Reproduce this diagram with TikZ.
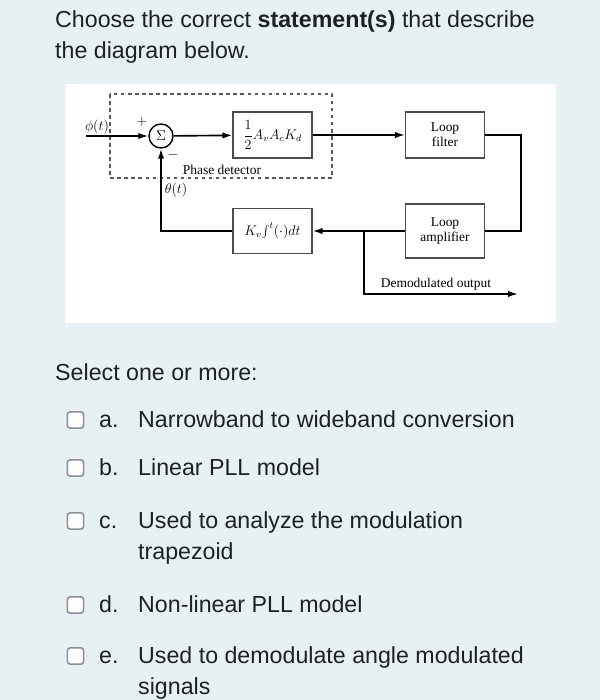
\documentclass[tikz,border=0pt]{standalone}
\usepackage{fontspec}
\setmainfont{Liberation Sans}
\newfontfamily\diagfont{Liberation Serif}
\usetikzlibrary{arrows.meta,positioning,calc}
\definecolor{pagebg}{HTML}{E7F1F4}
\definecolor{inktext}{HTML}{1D2125}
\definecolor{boxgray}{HTML}{8A9097}
\tikzset{
  blockbox/.style={draw=black!70, line width=0.9pt, fill=white,
    minimum width=23.7mm, minimum height=13.8mm, align=center, inner sep=2pt,
    font=\diagfont\fontsize{11.5}{13}\selectfont},
  sumnode/.style={draw=black, circle, line width=1.2pt, minimum size=7.2mm, inner sep=0pt,
    font=\fontsize{12}{13}\selectfont},
  sig/.style={-{Latex[length=3mm,width=1.9mm]}, line width=1.4pt},
  wire/.style={line width=1.4pt},
  difflabel/.style={font=\diagfont\fontsize{11.5}{13}\selectfont, inner sep=1pt},
  qtext/.style={anchor=base west, inner sep=0pt, text=inktext,
    font=\fontsize{19.8}{26.4}\selectfont, align=left},
  tickbox/.style={draw=boxgray, line width=1.3pt, rounded corners=2.5pt, fill=white,
    minimum size=4.9mm, inner sep=0pt},
}
%% box row at y, text baseline of its last line at #4
\newcommand{\choice}[4]{%
  \node[tickbox] (box#1) at (75.5,#2) {};
  \node[qtext] (let#1) at (99,#2+7) {#1.};
  \node[qtext] (opt#1) at (138,#4) {#3};}

\begin{document}
\begin{tikzpicture}[x=0.03cm, y=-0.03cm]

  %% ---- page ----
  \fill[pagebg] (0,0) rectangle (600,700);
  \useasboundingbox (0,0) rectangle (600,700);

  \node[qtext] (ask1) at (55,27) {Choose the correct \textbf{statement(s)} that describe};
  \node[qtext] (ask2) at (55,58) {the diagram below.};

  %% ---- diagram panel ----
  \fill[white] (65,84) rectangle (556,323);
  \draw[dashed, black!65, line width=0.9pt] (110,94) rectangle (332,178);

  \node[sumnode] (sum) at (161,136) {$\Sigma$};
  \node[blockbox] (gain) at (272.5,135) {$\displaystyle\frac{1}{2}A_vA_cK_d$};
  \node[blockbox] (filter) at (445,135) {Loop\\filter};
  \node[blockbox, minimum height=16.2mm] (amp) at (445,231) {Loop\\amplifier};
  \node[blockbox, minimum height=13.5mm] (vco) at (272.5,231) {$K_v\!\int^t(\cdot)dt$};

  \coordinate (phiin) at (86,136);
  \coordinate (split) at (364,231);
  \coordinate (demod) at (518,294);

  \node[difflabel] (phi) at (97,127) {$\phi(t)$};
  \node[difflabel] (plus) at (142,122) {$+$};
  \node[difflabel] (minus) at (173,155) {$-$};
  \node[difflabel] (pd) at (222,170) {Phase detector};
  \node[difflabel] (theta) at (176,190) {$\theta(t)$};
  \node[difflabel] (demodlbl) at (436,284) {Demodulated output};

  \draw[sig] (phiin) -- (sum);
  \draw[sig] (sum) -- (gain);
  \draw[sig] (gain) -- (filter);
  \draw[wire] (filter.east) -- ++(36,0) |- (amp.east);
  \draw[sig] (amp.west) -- (vco.east);
  \draw[sig] (split) |- (demod);
  \draw[sig] (vco.west) -| (sum.south);

  %% ---- choices ----
  \node[qtext] (pick) at (55,380) {Select one or more:};
  \choice{a}{420}{Narrowband to wideband conversion}{427}
  \choice{b}{468}{Linear PLL model}{475}
  \choice{c}{521}{Used to analyze the modulation\\trapezoid}{559}
  \choice{d}{605}{Non-linear PLL model}{612}
  \choice{e}{656}{Used to demodulate angle modulated\\signals}{694}

\end{tikzpicture}
\end{document}
